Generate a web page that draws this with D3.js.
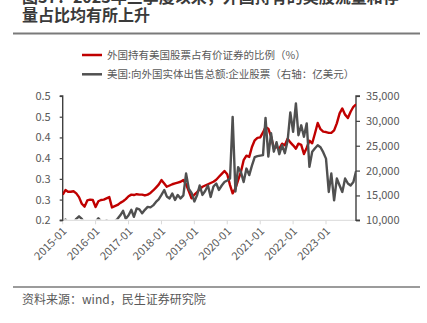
<!DOCTYPE html>
<html>
<head>
<meta charset="utf-8">
<script src="https://cdn.jsdelivr.net/npm/d3@7"></script>
<style>
  html, body { margin: 0; padding: 0; background: #ffffff; }
  svg { display: block; font-family: "Noto Sans CJK SC", "Noto Sans", sans-serif; }
</style>
</head>
<body>
<svg id="chart" width="427" height="323"></svg>
<script>
// Monthly observations, 2015-01 .. 2023-12
const firstMonth = "2015-01";
const monthCount = 108;

// Foreign holdings of US equities as a share of US securities (left axis)
const foreignShare = [
  0.262, 0.273, 0.269, 0.269, 0.270, 0.265, 0.256, 0.240, 0.233, 0.248, 0.250, 0.249,
  0.232, 0.246, 0.249, 0.250, 0.253, 0.256, 0.231, 0.234, 0.237, 0.242, 0.246, 0.251,
  0.258, 0.262, 0.261, 0.263, 0.262, 0.262, 0.260, 0.262, 0.266, 0.272, 0.279, 0.286,
  0.297, 0.289, 0.281, 0.284, 0.287, 0.289, 0.291, 0.293, 0.297, 0.287, 0.270, 0.253,
  0.262, 0.268, 0.275, 0.281, 0.284, 0.287, 0.290, 0.293, 0.298, 0.305, 0.312, 0.319,
  0.311, 0.285, 0.265, 0.277, 0.297, 0.317, 0.345, 0.356, 0.353, 0.377, 0.393, 0.399,
  0.400, 0.412, 0.425, 0.421, 0.402, 0.374, 0.377, 0.373, 0.385, 0.381, 0.397, 0.388,
  0.381, 0.373, 0.385, 0.382, 0.360, 0.375, 0.392, 0.386, 0.410, 0.435, 0.420, 0.414,
  0.413, 0.411, 0.411, 0.417, 0.434, 0.458, 0.470, 0.455, 0.447, 0.462, 0.474, 0.480
];

// US sales of corporate stocks to foreign entities, 100m USD (right axis)
const stockSales = [
   9500, 10150,  9600,  9300,  9500, 10300, 10800, 10300,  9400,  9200,  9500,  9300,
   9700, 10400,  9800,  9400, 10000,  9600,  9500,  9800, 10300, 11000, 11900, 10300,
  11000, 12100, 10700, 12400, 12200, 11400, 12100, 12700, 12600, 13000, 13700, 14200,
  15100, 16100, 14800, 14400, 15400, 14100, 15100, 14400, 15000, 19400, 16300, 15500,
  13800, 15100, 17000, 15100, 15900, 17000, 14700, 16800, 17400, 16100, 17000, 17700,
  18000, 18400, 30800, 15800, 20700, 19700, 17700, 20400, 19100, 21000, 22700, 22900,
  23000, 23100, 30600, 22800, 27500, 23800, 25700, 23300, 25100, 23500, 26000, 31700,
  27800, 33500, 27100, 29100, 26800, 29500, 20750, 23800, 24500, 25100, 24700, 23700,
  22400, 15700, 19400, 14000, 18400, 17000, 15700, 18400, 17400, 17000, 17700, 19900
];

const xTickLabels = ["2015-01", "2016-01", "2017-01", "2018-01", "2019-01",
                     "2020-01", "2021-01", "2022-01", "2023-01"];
const leftTicks = [0.2, 0.25, 0.3, 0.35, 0.4, 0.45, 0.5];
const leftTickLabels = ["0.2", "0.3", "0.3", "0.4", "0.4", "0.5", "0.5"];
const rightTicks = [10000, 15000, 20000, 25000, 30000, 35000];

const titleLines = ["图37：2023年三季度以来，外国持有的美股流量和存", "量占比均有所上升"];
const legendLabels = ["外国持有美国股票占有价证券的比例（%）", "美国:向外国实体出售总额:企业股票（右轴：亿美元）"];
const sourceText = "资料来源：wind，民生证券研究院";

const RED = "#c00000";
const GREY = "#505050";
const AXIS = "#404040";
const TEXT = "#595959";

const parseMonth = d3.timeParse("%Y-%m");
const start = parseMonth(firstMonth);
const months = d3.timeMonth.range(start, d3.timeMonth.offset(start, monthCount));

const svg = d3.select("#chart");
const plot = { left: 62.7, right: 356, top: 96, bottom: 220.3 };

const x = d3.scaleTime()
  .domain([parseMonth("2015-01"), parseMonth("2023-01")])
  .range([plot.left, 326]);
const yL = d3.scaleLinear().domain([0.2, 0.5]).range([plot.bottom, plot.top]);
const yR = d3.scaleLinear().domain([10000, 35000]).range([plot.bottom, plot.top]);

// Title
const title = svg.append("g")
  .attr("font-size", 16).attr("font-weight", "bold").attr("fill", "#3a3a3a");
title.selectAll("text").data(titleLines).join("text")
  .attr("x", 22).attr("y", (d, i) => 3 + i * 17.5).text(d => d);
svg.append("line").attr("x1", 13).attr("x2", 420).attr("y1", 33.5).attr("y2", 33.5)
  .attr("stroke", "#7a7a7a").attr("stroke-width", 2);

// Legend
const legend = svg.append("g").attr("font-size", 10.5).attr("fill", TEXT);
[RED, GREY].forEach((c, i) => {
  const ly = 55 + i * 19.3;
  legend.append("line").attr("x1", 82).attr("x2", 102).attr("y1", ly).attr("y2", ly)
    .attr("stroke", c).attr("stroke-width", 2.5);
  legend.append("text").attr("x", 107).attr("y", ly).attr("dy", "0.36em").text(legendLabels[i]);
});

// Bottom axis
const xTickDates = xTickLabels.map(parseMonth);
svg.append("line").attr("x1", plot.left).attr("x2", plot.right)
  .attr("y1", plot.bottom).attr("y2", plot.bottom)
  .attr("stroke", "#d9d9d9").attr("stroke-width", 1);
const xg = svg.append("g");
xg.selectAll("line").data(xTickDates).join("line")
  .attr("x1", d => x(d)).attr("x2", d => x(d))
  .attr("y1", plot.bottom).attr("y2", plot.bottom + 4)
  .attr("stroke", "#d9d9d9");
xg.selectAll("text").data(xTickDates).join("text")
  .attr("transform", d => `translate(${x(d) + 2},${plot.bottom + 9}) rotate(-45)`)
  .attr("text-anchor", "end").attr("dy", "0.35em")
  .attr("font-size", 11).attr("fill", TEXT)
  .text((d, i) => xTickLabels[i]);

// Left axis
const leftAxis = d3.axisLeft(yL).tickValues(leftTicks).tickSize(3).tickPadding(9)
  .tickFormat((d, i) => leftTickLabels[i]);
const lg = svg.append("g").attr("transform", `translate(${plot.left},0)`).call(leftAxis);
lg.select(".domain").attr("stroke", AXIS).attr("stroke-width", 1.4)
  .attr("d", `M-3,${plot.top}H0V${plot.bottom}H-3`);
lg.selectAll(".tick line").attr("stroke", AXIS).attr("stroke-width", 1.2);
lg.selectAll(".tick text").attr("font-size", 11).attr("fill", TEXT)
  .attr("font-family", "'Noto Sans CJK SC', sans-serif");

// Right axis
const rightAxis = d3.axisRight(yR).tickValues(rightTicks).tickSize(4).tickPadding(6)
  .tickFormat(d3.format(","));
const rg = svg.append("g").attr("transform", `translate(${plot.right},0)`).call(rightAxis);
rg.select(".domain").attr("stroke", AXIS).attr("stroke-width", 1.4)
  .attr("d", `M4,${plot.top}H0V${plot.bottom}H4`);
rg.selectAll(".tick line").attr("stroke", AXIS).attr("stroke-width", 1.2);
rg.selectAll(".tick text").attr("font-size", 11).attr("fill", TEXT)
  .attr("font-family", "'Noto Sans CJK SC', sans-serif");

// Series, clipped to the plotting area
svg.append("clipPath").attr("id", "plot-clip").append("rect")
  .attr("x", plot.left).attr("y", plot.top - 2)
  .attr("width", plot.right - plot.left).attr("height", plot.bottom - plot.top + 1);

const series = svg.append("g").attr("clip-path", "url(#plot-clip)");
const shareLine = d3.line().x((d, i) => x(months[i])).y(d => yL(d));
const salesLine = d3.line().x((d, i) => x(months[i])).y(d => yR(d));

series.append("path").datum(foreignShare).attr("d", shareLine)
  .attr("fill", "none").attr("stroke", RED).attr("stroke-width", 2.4)
  .attr("stroke-linejoin", "round");
series.append("path").datum(stockSales).attr("d", salesLine)
  .attr("fill", "none").attr("stroke", GREY).attr("stroke-width", 2.4)
  .attr("stroke-linejoin", "round");

// Source
svg.append("line").attr("x1", 13).attr("x2", 420).attr("y1", 287).attr("y2", 287)
  .attr("stroke", "#7a7a7a").attr("stroke-width", 1.5);
svg.append("text").attr("x", 22).attr("y", 304).attr("font-size", 12).attr("fill", TEXT)
  .text(sourceText);
</script>
</body>
</html>
